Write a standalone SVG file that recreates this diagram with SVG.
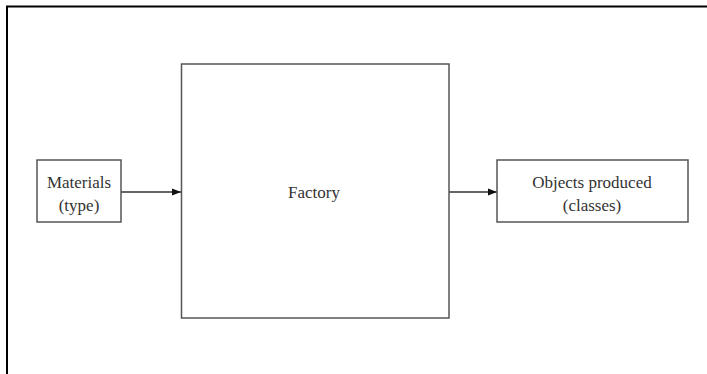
<svg xmlns="http://www.w3.org/2000/svg" width="707" height="374" viewBox="0 0 707 374">
<style>
.box{fill:#fff;stroke:#555;stroke-width:1.5}
.lbl{font-family:"Liberation Serif",serif;font-size:17px;fill:#333;text-anchor:middle}
.conn{stroke:#333;stroke-width:1.3;fill:none}
</style>
<defs>
<marker id="ah" markerWidth="10" markerHeight="8" refX="9" refY="4" orient="auto" markerUnits="userSpaceOnUse">
<path d="M0,0.5 L9,4 L0,7.5 Z" fill="#111"/>
</marker>
</defs>
<rect width="707" height="374" fill="#fff"/>
<path d="M7,374 V6.5 H707" fill="none" stroke="#000" stroke-width="2"/>
<g id="connectors">
<line class="conn" x1="121" y1="192" x2="181" y2="192" marker-end="url(#ah)"/>
<line class="conn" x1="449" y1="192" x2="497" y2="192" marker-end="url(#ah)"/>
</g>
<g id="materials">
<rect class="box" x="37" y="160" width="84" height="62"/>
<text class="lbl" x="79" y="188" textLength="64" lengthAdjust="spacingAndGlyphs">Materials</text>
<text class="lbl" x="79" y="211">(type)</text>
</g>
<g id="factory">
<rect class="box" x="181.5" y="64" width="267.5" height="254"/>
<text class="lbl" x="314" y="198">Factory</text>
</g>
<g id="objects">
<rect class="box" x="497" y="160" width="191" height="62"/>
<text class="lbl" x="592" y="188">Objects produced</text>
<text class="lbl" x="592" y="211">(classes)</text>
</g>
</svg>
